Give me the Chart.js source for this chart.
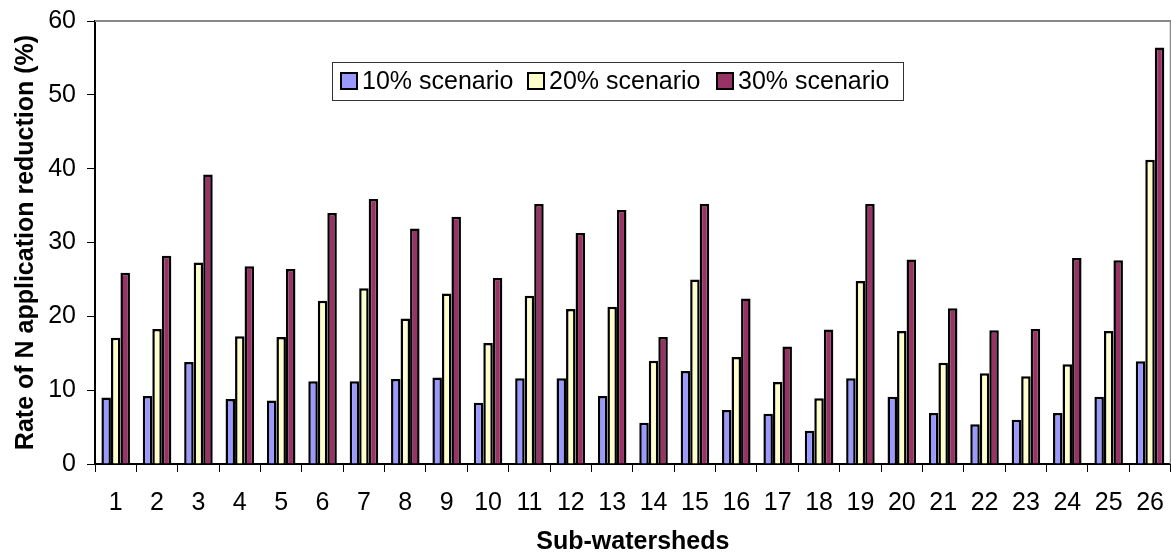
<!DOCTYPE html>
<html>
<head>
<meta charset="utf-8">
<script src="https://cdn.jsdelivr.net/npm/chart.js@4"></script>
<style>
	html, body { margin: 0; padding: 0; background: #fff; overflow: hidden; }
	#wrap { width: 1180px; height: 557px; position: relative; }
</style>
</head>
<body>
<div id="wrap"><canvas id="chart"></canvas></div>
<script>
const subWatersheds = ['1', '2', '3', '4', '5', '6', '7', '8', '9', '10', '11', '12', '13',
	'14', '15', '16', '17', '18', '19', '20', '21', '22', '23', '24', '25', '26'];

const scenario10 = [9.0, 9.2, 13.8, 8.8, 8.6, 11.2, 11.2, 11.5, 11.7, 8.3, 11.6, 11.6, 9.2,
	5.6, 12.6, 7.3, 6.8, 4.5, 11.6, 9.1, 6.9, 5.4, 6.0, 6.9, 9.1, 13.9];
const scenario20 = [17.1, 18.3, 27.3, 17.3, 17.2, 22.1, 23.8, 19.7, 23.1, 16.4, 22.8, 21.0, 21.3,
	14.0, 25.0, 14.5, 11.1, 8.9, 24.8, 18.0, 13.7, 12.3, 11.9, 13.5, 18.0, 41.2];
const scenario30 = [25.9, 28.2, 39.2, 26.8, 26.4, 34.0, 35.9, 31.9, 33.5, 25.2, 35.2, 31.3, 34.4,
	17.2, 35.2, 22.4, 15.9, 18.2, 35.2, 27.7, 21.1, 18.1, 18.3, 27.9, 27.6, 56.4];

const FONT = '"Liberation Sans", Arial, sans-serif';

// серая рамка области построения (видна только сверху)
const plotBorder = {
	id: 'plotBorder',
	beforeDatasetsDraw(chart) {
		const { ctx, chartArea: a } = chart;
		ctx.save();
		ctx.strokeStyle = '#888';
		ctx.lineWidth = 2;
		ctx.beginPath();
		ctx.moveTo(a.left, a.top);
		ctx.lineTo(a.right, a.top);
		ctx.lineTo(a.right, a.bottom);
		ctx.stroke();
		ctx.restore();
	}
};

// легенда в рамке внутри графика
const boxLegend = {
	id: 'boxLegend',
	afterDraw(chart) {
		const { ctx } = chart;
		const itemX = [341, 528, 717];
		ctx.save();
		ctx.fillStyle = '#fff';
		ctx.fillRect(332, 62, 571, 38);
		ctx.strokeStyle = '#333';
		ctx.lineWidth = 1;
		ctx.strokeRect(332.5, 62.5, 571, 38);
		ctx.font = '25px ' + FONT;
		ctx.textBaseline = 'middle';
		chart.data.datasets.forEach((ds, i) => {
			ctx.fillStyle = ds.backgroundColor;
			ctx.fillRect(itemX[i], 73, 16, 16);
			ctx.strokeStyle = '#000';
			ctx.lineWidth = 2;
			ctx.strokeRect(itemX[i], 73, 16, 16);
			ctx.fillStyle = '#000';
			ctx.fillText(ds.label, itemX[i] + 21, 82);
		});
		ctx.restore();
	}
};

new Chart(document.getElementById('chart'), {
	type: 'bar',
	data: {
		labels: subWatersheds,
		datasets: [
			{ label: '10% scenario', data: scenario10, backgroundColor: '#9999FF' },
			{ label: '20% scenario', data: scenario20, backgroundColor: '#FFFFCC' },
			{ label: '30% scenario', data: scenario30, backgroundColor: '#993366' }
		]
	},
	options: {
		responsive: true,
		maintainAspectRatio: false,
		animation: false,
		layout: { padding: { top: 21, right: 3, left: 0, bottom: 0 } },
		datasets: {
			bar: {
				borderColor: '#000',
				borderWidth: 2.5,
				categoryPercentage: 0.69,
				barPercentage: 1.0
			}
		},
		plugins: {
			legend: { display: false },
			tooltip: { enabled: false }
		},
		scales: {
			x: {
				grid: {
					drawOnChartArea: false,
					color: '#000',
					tickLength: 8,
					offset: true
				},
				border: { color: '#000', width: 2 },
				ticks: { color: '#000', font: { family: FONT, size: 25 }, padding: 16 },
				title: {
					display: true,
					text: 'Sub-watersheds',
					color: '#000',
					font: { family: FONT, size: 25, weight: 'bold' },
					padding: { top: 0, bottom: 0 }
				},
				afterFit(scale) { scale.height = 93; }
			},
			y: {
				min: 0,
				max: 60,
				grid: {
					drawOnChartArea: false,
					color: '#000',
					tickLength: 8
				},
				border: { color: '#000', width: 2 },
				ticks: { stepSize: 10, color: '#000', font: { family: FONT, size: 25 }, padding: 11 },
				title: {
					display: true,
					text: 'Rate of N application reduction (%)',
					color: '#000',
					font: { family: FONT, size: 25, weight: 'bold' },
					padding: { top: 11, bottom: 0 }
				},
				afterFit(scale) {
					scale.width = 95;
					scale.paddingTop = 0;
					scale.paddingBottom = 0;
				}
			}
		}
	},
	plugins: [plotBorder, boxLegend]
});
</script>
</body>
</html>
